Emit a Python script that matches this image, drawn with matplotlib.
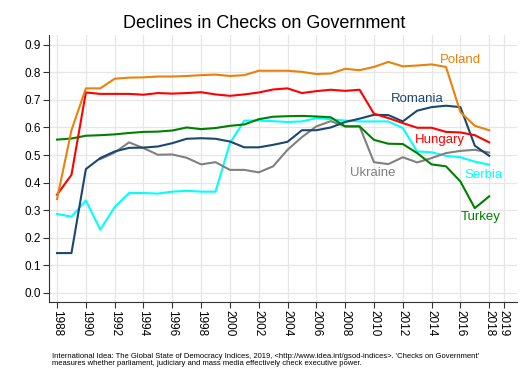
import matplotlib
matplotlib.use("Agg")
import matplotlib.pyplot as plt
import numpy as np

plt.rcParams['font.family'] = ['Liberation Sans', 'DejaVu Sans']

# years 1988 - 2018
years = np.arange(1988, 2019)

# values (None = no data)
poland = [0.34, 0.59, 0.742, 0.742, 0.777, 0.781, 0.782, 0.785, 0.785, 0.787, 0.79, 0.792,
          0.787, 0.79, 0.806, 0.806, 0.806, 0.802, 0.794, 0.796, 0.813, 0.808, 0.82, 0.838,
          0.822, 0.825, 0.829, 0.82, 0.656, 0.606, 0.59]
hungary = [0.356, 0.428, 0.727, 0.722, 0.722, 0.722, 0.719, 0.725, 0.723, 0.725, 0.728, 0.72,
           0.715, 0.72, 0.727, 0.738, 0.742, 0.725, 0.732, 0.737, 0.733, 0.737, 0.65, 0.634,
           0.616, 0.599, 0.599, 0.584, 0.582, 0.572, 0.546]
romania = [0.144, 0.144, 0.449, 0.489, 0.513, 0.526, 0.527, 0.531, 0.543, 0.559, 0.561, 0.559,
           0.549, 0.528, 0.528, 0.537, 0.548, 0.59, 0.59, 0.60, 0.62, 0.632, 0.646, 0.645,
           0.622, 0.661, 0.674, 0.679, 0.674, 0.534, 0.497]
ukraine = [None, None, None, 0.485, 0.509, 0.546, 0.525, 0.501, 0.502, 0.49, 0.466, 0.474,
           0.446, 0.446, 0.437, 0.459, 0.519, 0.565, 0.604, 0.623, 0.604, 0.604, 0.474, 0.467,
           0.492, 0.473, 0.489, 0.507, 0.515, 0.519, 0.509]
serbia = [0.286, 0.276, 0.335, 0.229, 0.311, 0.362, 0.362, 0.36, 0.367, 0.37, 0.367, 0.367,
          0.543, 0.625, 0.625, 0.623, 0.62, 0.622, 0.634, 0.63, 0.625, 0.622, 0.622, 0.622,
          0.598, 0.513, 0.51, 0.497, 0.492, 0.476, 0.465]
turkey = [0.556, 0.56, 0.57, 0.572, 0.575, 0.58, 0.584, 0.585, 0.589, 0.6, 0.594, 0.598,
          0.606, 0.611, 0.63, 0.639, 0.641, 0.642, 0.64, 0.637, 0.604, 0.604, 0.555, 0.541,
          0.54, 0.507, 0.466, 0.459, 0.404, 0.307, 0.35]

# series: name, values, colour, label position
series = [
    ("Serbia", serbia, "#00ffff", (2017.6, 0.428)),
    ("Ukraine", ukraine, "#808080", (2009.9, 0.436)),
    ("Romania", romania, "#1a476f", (2013.0, 0.704)),
    ("Turkey", turkey, "#008000", (2017.4, 0.276)),
    ("Hungary", hungary, "#ff0000", (2014.6, 0.555)),
    ("Poland", poland, "#e8820c", (2016.0, 0.846)),
]

fig = plt.figure(figsize=(5.29, 3.84), dpi=100)
ax = fig.add_axes([0.0926, 0.214, 0.885, 0.695])

for name, vals, col, pos in series:
    y = np.array([np.nan if v is None else v for v in vals], dtype=float)
    ax.plot(years, y, color=col, lw=1.5, solid_joinstyle="round")
    ax.text(pos[0], pos[1], name, color=col, fontsize=9.5, ha="center", va="center")

ax.set_xlim(1987.44, 2019.94)
ax.set_ylim(-0.033, 0.936)

xticks = list(range(1988, 2019, 2)) + [2019]
ax.set_xticks(xticks)
ax.set_xticklabels([str(t) for t in xticks], rotation=270, fontsize=8.5)
yticks = np.arange(0, 0.91, 0.1)
ax.set_yticks(yticks)
ax.set_yticklabels(["%.1f" % t for t in yticks], fontsize=8.5)

ax.grid(True, color="#e6e6e6", lw=0.9)
ax.set_axisbelow(True)
for s in ["top", "right"]:
    ax.spines[s].set_visible(False)
ax.spines["left"].set_color("#333333")
ax.spines["bottom"].set_color("#333333")
ax.tick_params(direction="out", length=4, color="#333333", pad=2)

fig.text(0.5, 0.94, "Declines in Checks on Government", ha="center", va="center", fontsize=13)

fig.text(0.098, 0.063, "International Idea: The Global State of Democracy Indices, 2019, <http://www.idea.int/gsod-indices>. 'Checks on Government'\n"
         "measures whether parliament, judiciary and mass media effectively check executive power.",
         ha="left", va="center", fontsize=5.5, linespacing=1.0)

fig.savefig("out.png", dpi=100, facecolor="white")
